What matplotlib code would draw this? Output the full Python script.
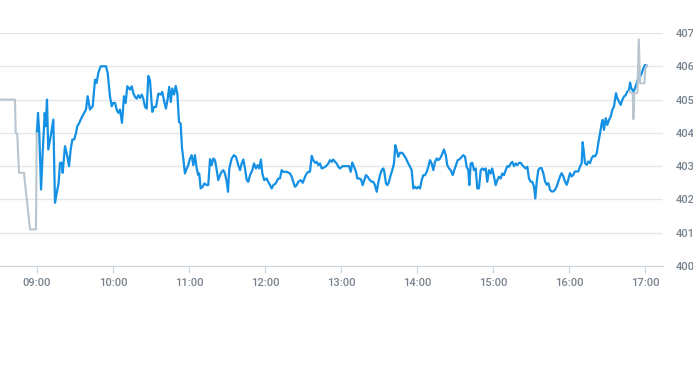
import matplotlib
matplotlib.use("Agg")
import matplotlib.pyplot as plt
from matplotlib.ticker import FuncFormatter

# intraday price, minutes after 09:00
session_min = [
    0, 0.8, 1.8, 3.2, 4.5, 6.1, 6.9, 7.9, 8.9, 10.8, 12.9, 14.2, 15.6, 17.1, 18.2, 19.5,
    20.3, 22.1, 23.4, 25.3, 26.6, 27.9, 29.4, 30.8, 31.8, 33.4, 34.5, 35.8, 37.3, 38.7,
    40.0, 41.8, 44.0, 45.8, 47.1, 48.4, 50.3, 54.5, 55.8, 57.6, 59.0, 60.2, 61.6, 62.9,
    64.2, 65.5, 67.1, 68.7, 70.0, 71.3, 73.4, 74.8, 76.0, 77.4, 78.7, 80.0, 81.3, 82.7,
    83.9, 85.3, 86.6, 87.9, 89.2, 91.0, 92.4, 94.0, 95.8, 97.7, 98.9, 100.5, 101.8, 103.2,
    104.4, 105.6, 106.8, 108.2, 109.5, 110.8, 112.1, 113.4, 114.5, 115.5, 116.8, 118.2,
    119.4, 120.8, 122.1, 123.4, 124.7, 126.1, 127.3, 128.1, 129.2, 130.8, 132.1, 134.0,
    135.2, 136.6, 137.9, 139.2, 140.5, 141.9, 143.1, 144.5, 145.8, 147.1, 148.4, 149.8,
    150.8, 151.8, 153.7, 155.5, 157.1, 158.9, 160.3, 161.6, 162.9, 164.2, 165.6, 166.8,
    168.2, 170.0, 171.3, 172.9, 174.2, 175.5, 176.8, 177.9, 179.4, 181.3, 182.9, 184.0,
    185.3, 186.6, 188.4, 190.5, 191.8, 193.2, 194.4, 197.1, 199.7, 201.1, 202.3, 203.7,
    205.0, 206.3, 208.2, 209.8, 211.6, 212.9, 214.2, 215.5, 216.9, 218.1, 219.5, 220.8,
    222.1, 223.4, 224.8, 226.6, 228.2, 230.0, 231.3, 232.7, 233.9, 235.3, 236.6, 237.9,
    239.2, 241.3, 243.2, 245.0, 246.3, 247.7, 248.9, 250.3, 251.8, 252.9, 254.4, 255.8,
    257.1, 258.4, 259.7, 261.1, 262.3, 264.2, 265.5, 266.8, 268.2, 269.4, 270.8, 272.1,
    273.4, 274.2, 275.5, 276.6, 277.9, 279.2, 280.5, 281.8, 282.9, 284.0, 285.2, 286.6,
    288.4, 289.7, 291.3, 293.1, 294.5, 295.8, 297.1, 298.4, 299.8, 301.0, 302.4, 303.7,
    305.0, 306.3, 307.7, 308.9, 310.3, 311.6, 312.9, 314.2, 315.6, 316.8, 318.2, 319.5,
    321.3, 322.7, 323.9, 325.3, 326.6, 328.2, 329.4, 330.8, 332.1, 333.4, 335.3, 336.6,
    337.9, 339.2, 340.5, 341.3, 342.4, 343.7, 345.0, 346.3, 347.6, 348.9, 350.3, 351.6,
    352.9, 354.2, 355.5, 356.8, 358.2, 359.4, 360.8, 362.1, 363.4, 364.7, 366.1, 367.3,
    368.7, 370.0, 371.3, 372.6, 374.0, 375.2, 376.6, 377.9, 379.2, 380.5, 381.9, 383.1,
    384.5, 385.8, 387.1, 388.4, 389.8, 391.0, 392.4, 393.4, 394.5, 395.8, 397.1, 398.4,
    399.7, 401.1, 402.4, 403.7, 405.0, 406.3, 407.6, 408.9, 410.3, 411.6, 412.9, 414.2,
    415.5, 416.8, 418.2, 419.4, 420.8, 422.1, 423.4, 424.7, 426.1, 427.3, 428.7, 430.0,
    430.8, 431.8, 432.6, 434.0, 435.2, 436.6, 437.9, 439.2, 440.5, 441.9, 443.1, 444.5,
    445.8, 446.6, 447.6, 449.0, 450.2, 451.6, 452.9, 454.2, 455.5, 457.1, 458.1, 459.5,
    460.8, 462.1, 463.4, 464.8, 466.0, 467.4, 468.2, 469.2, 470.8, 472.1, 473.4, 474.7,
    476.1, 477.4, 478.7, 480.0, 481.3,
]
session_price = [
    404.05, 404.6, 404.0, 402.3, 403.4, 404.6, 404.2, 405.0, 403.5, 403.9, 404.4, 401.9,
    402.2, 402.5, 403.1, 403.1, 402.8, 403.6, 403.4, 403.0, 403.5, 403.8, 403.8, 404.0,
    404.2, 404.3, 404.4, 404.5, 404.6, 404.7, 405.1, 404.7, 404.8, 405.6, 405.5, 405.8,
    406.0, 406.0, 405.8, 405.1, 404.8, 404.9, 404.9, 404.7, 404.6, 404.7, 404.3, 405.1,
    404.9, 405.4, 405.3, 405.4, 405.2, 405.08, 405.03, 405.13, 405.05, 405.15, 405.03,
    404.78, 404.73, 405.71, 405.58, 404.63, 404.78, 404.78, 405.18, 405.15, 405.23, 404.93,
    404.73, 405.03, 405.38, 404.93, 405.33, 405.15, 405.41, 405.18, 404.33, 404.28, 403.53,
    403.23, 402.78, 402.93, 403.03, 403.23, 403.33, 403.03, 403.33, 402.93, 402.73, 402.78,
    402.33, 402.38, 402.48, 402.43, 402.43, 403.21, 403.03, 403.23, 403.18, 402.88, 402.58,
    402.73, 402.83, 402.88, 402.78, 402.53, 402.23, 402.93, 403.23, 403.33, 403.28, 403.03,
    402.88, 403.08, 403.2, 402.93, 402.58, 402.53, 402.73, 402.88, 403.08, 402.93, 403.03,
    402.93, 403.2, 402.78, 402.58, 402.63, 402.5, 402.43, 402.33, 402.43, 402.48, 402.63,
    402.63, 402.88, 402.83, 402.83, 402.78, 402.68, 402.53, 402.38, 402.43, 402.53, 402.58,
    402.5, 402.68, 402.78, 402.83, 402.83, 403.31, 403.18, 403.1, 403.13, 403.03, 403.08,
    402.93, 402.96, 403.0, 403.08, 403.18, 403.13, 403.2, 403.13, 403.08, 402.98, 402.93,
    403.0, 403.0, 403.0, 403.0, 402.83, 403.11, 402.98, 402.83, 402.63, 402.63, 402.6,
    402.43, 402.58, 402.73, 402.68, 402.6, 402.53, 402.53, 402.43, 402.23, 402.5, 402.73,
    402.88, 402.93, 402.83, 402.48, 402.43, 402.53, 402.73, 402.88, 403.08, 403.63, 403.48,
    403.28, 403.4, 403.4, 403.33, 403.23, 403.08, 402.98, 402.88, 402.33, 402.38, 402.33,
    402.38, 402.33, 402.58, 402.73, 402.73, 402.83, 402.98, 403.18, 403.08, 402.88, 403.13,
    403.23, 403.18, 403.23, 403.33, 403.5, 403.33, 403.03, 402.93, 402.88, 402.73, 402.88,
    403.03, 403.18, 403.2, 403.28, 403.33, 403.28, 402.98, 402.88, 402.43, 403.08, 403.1,
    402.88, 402.93, 402.33, 402.33, 402.88, 402.93, 402.88, 402.93, 402.53, 402.88, 402.78,
    402.93, 402.68, 402.43, 402.58, 402.68, 402.63, 402.78, 402.73, 402.88, 403.0, 402.98,
    403.08, 403.13, 403.0, 403.08, 403.03, 403.1, 403.1, 403.03, 402.98, 402.93, 402.98,
    402.63, 402.53, 402.53, 402.38, 402.03, 402.53, 402.89, 402.94, 402.94, 402.79, 402.54,
    402.44, 402.49, 402.29, 402.24, 402.24, 402.29, 402.39, 402.54, 402.69, 402.79, 402.69,
    402.54, 402.44, 402.59, 402.79, 402.69, 402.74, 402.84, 402.84, 402.84, 402.99, 403.09,
    403.72, 403.39, 403.09, 403.04, 403.14, 403.09, 403.24, 403.31, 403.29, 403.39, 403.69,
    403.99, 404.29, 404.39, 404.09, 404.44, 404.24, 404.39, 404.49, 404.69, 404.79, 405.19,
    405.04, 404.94, 404.84, 404.99, 405.09, 405.14, 405.24, 405.29, 405.51, 405.34, 405.24,
    405.34, 405.49, 405.64, 405.69, 405.79, 405.94, 406.04, 406.02,
]

# pre- and after-market prints
pre_min = [-30, -17.4, -16.8, -15.6, -14.2, -10.3, -5.5, -0.8, -0.2]
pre_price = [405.0, 405.0, 404.0, 403.97, 402.8, 402.8, 401.1, 401.1, 404.05]
post_min = [467.6, 470.3, 470.8, 471.6, 474.0, 475.1, 476.1, 479.5, 480.3, 481.3]
post_price = [405.24, 405.19, 404.41, 405.19, 405.21, 406.81, 405.49, 405.49, 405.94, 406.02]

hour_ticks = [0, 60, 120, 180, 240, 300, 360, 420, 480]
price_ticks = [400, 401, 402, 403, 404, 405, 406, 407]

plt.rcParams['font.family'] = ['Roboto', 'DejaVu Sans']

fig = plt.figure(figsize=(6.93, 3.65), dpi=100)
ax = fig.add_axes([0, 1 - 266 / 365, 663 / 693, (266 - 33) / 365])

ax.plot(pre_min, pre_price, color='#b9c5cf', lw=1.5, zorder=2)
ax.plot(session_min, session_price, color='#1490e4', lw=1.6, zorder=3,
        solid_joinstyle='round')
ax.plot(post_min, post_price, color='#b9c5cf', lw=1.5, zorder=4)

ax.set_xlim(-29.2, 494.2)
ax.set_ylim(400, 407)
ax.set_xticks(hour_ticks)
ax.xaxis.set_major_formatter(FuncFormatter(lambda m, pos: f"{9 + int(m // 60):02d}:{int(m % 60):02d}"))
ax.set_yticks(price_ticks)
ax.yaxis.tick_right()
ax.yaxis.set_major_formatter(FuncFormatter(lambda v, pos: f"{v:.0f}"))

ax.grid(axis='y', color='#e3e6ea', lw=1)
ax.set_axisbelow(True)
for side in ['top', 'left', 'right']:
    ax.spines[side].set_visible(False)
ax.spines['bottom'].set_color('#ccd6e0')
ax.tick_params(axis='x', length=5, color='#ccd6e0', pad=4, labelsize=8, labelcolor='#76838f')
ax.tick_params(axis='y', length=0, pad=9, labelsize=8, labelcolor='#76838f')
for lbl in ax.get_xticklabels() + ax.get_yticklabels():
    lbl.set_fontweight('medium')

fig.savefig('out.png', dpi=100)
